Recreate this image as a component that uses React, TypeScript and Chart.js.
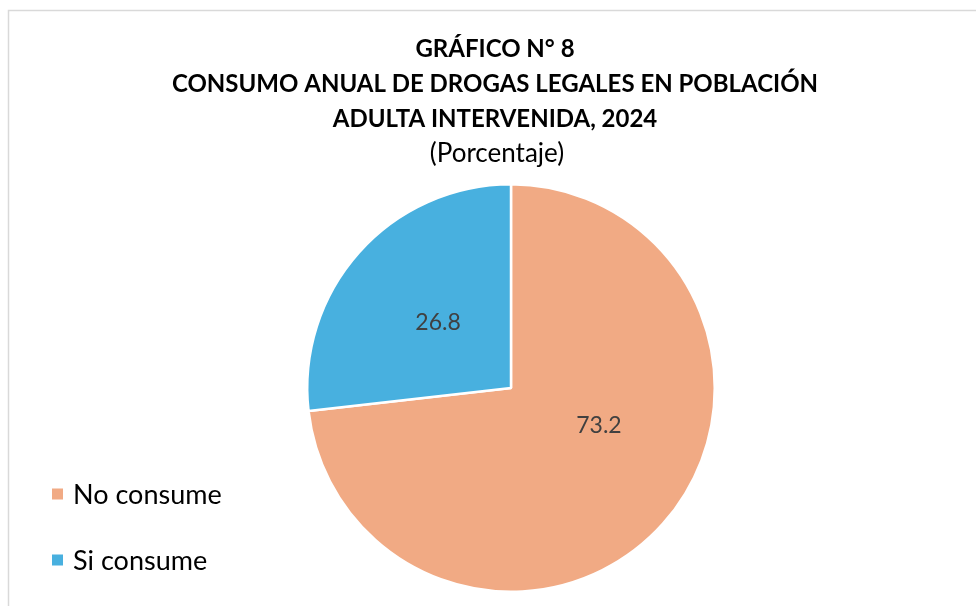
import React, { useEffect, useRef } from "react";
import { Chart, registerables } from "chart.js";

Chart.register(...registerables);

const categories = ["No consume", "Si consume"];
const values = [73.2, 26.8];
const colors = ["#F1AA84", "#48B0DF"];
const titleLines = ["GRÁFICO N° 8", "CONSUMO ANUAL DE DROGAS LEGALES EN POBLACIÓN", "ADULTA INTERVENIDA, 2024"];
const subtitle = "(Porcentaje)";
// fraction of the slice angle / radius where each data label sits
const labelAngleFrac = [0.43, 0.5];
const labelRadiusFrac = [0.47, 0.48];

const FONT = "Lato, 'Open Sans', sans-serif";

const decorPlugin = {
  id: "decor",
  beforeDraw(chart: any) {
    const ctx = chart.ctx;
    ctx.save();
    ctx.fillStyle = "#ffffff";
    ctx.fillRect(0, 0, chart.width, chart.height);
    ctx.strokeStyle = "#D9D9D9";
    ctx.lineWidth = 1.5;
    ctx.strokeRect(8.5, 10.5, chart.width + 20, chart.height + 20);
    ctx.restore();
  },
  afterDraw(chart: any) {
    const ctx = chart.ctx;
    ctx.save();
    // title
    ctx.fillStyle = "#000000";
    ctx.textAlign = "center";
    ctx.textBaseline = "middle";
    ctx.font = `bold 24px ${FONT}`;
    const cx = 495;
    const ys = [49, 84, 119];
    titleLines.forEach((t, i) => ctx.fillText(t, cx, ys[i]));
    ctx.font = `26px ${FONT}`;
    ctx.fillText(subtitle, 497, 154);

    // legend
    ctx.textAlign = "left";
    ctx.font = `27px ${FONT}`;
    const legY = [494, 560];
    categories.forEach((c, i) => {
      ctx.fillStyle = colors[i];
      ctx.fillRect(52, legY[i] - 5.5, 11, 11);
      ctx.fillStyle = "#000000";
      ctx.fillText(c, 73, legY[i] + 1);
    });

    // data labels
    const meta = chart.getDatasetMeta(0);
    ctx.font = `23px ${FONT}`;
    ctx.fillStyle = "#404040";
    ctx.textAlign = "center";
    meta.data.forEach((arc: any, i: number) => {
      const p = arc.getProps(["x", "y", "startAngle", "endAngle", "outerRadius"], true);
      const a = p.startAngle + (p.endAngle - p.startAngle) * labelAngleFrac[i];
      const r = p.outerRadius * labelRadiusFrac[i];
      ctx.fillText(values[i].toFixed(1), p.x + Math.cos(a) * r, p.y + Math.sin(a) * r);
    });
    ctx.restore();
  },
};

export default function App() {
  const ref = useRef<HTMLCanvasElement>(null);
  useEffect(() => {
    document.body.style.margin = "0";
    const chart = new Chart(ref.current!, {
      type: "pie",
      data: {
        labels: categories,
        datasets: [
          {
            data: values,
            backgroundColor: colors,
            borderColor: "#ffffff",
            borderWidth: 2.5,
          },
        ],
      },
      options: {
        responsive: false,
        animation: false,
        layout: { padding: { top: 183, bottom: 13, left: 306, right: 260 } },
        plugins: {
          legend: { display: false },
          tooltip: { enabled: false },
          title: { display: false },
        },
      },
      plugins: [decorPlugin],
    });
    return () => chart.destroy();
  }, []);
  return (
    <div style={{ position: "absolute", left: 0, top: 0, width: 976, height: 606 }}>
      <canvas ref={ref} width={976} height={606} style={{ width: 976, height: 606 }} />
    </div>
  );
}
